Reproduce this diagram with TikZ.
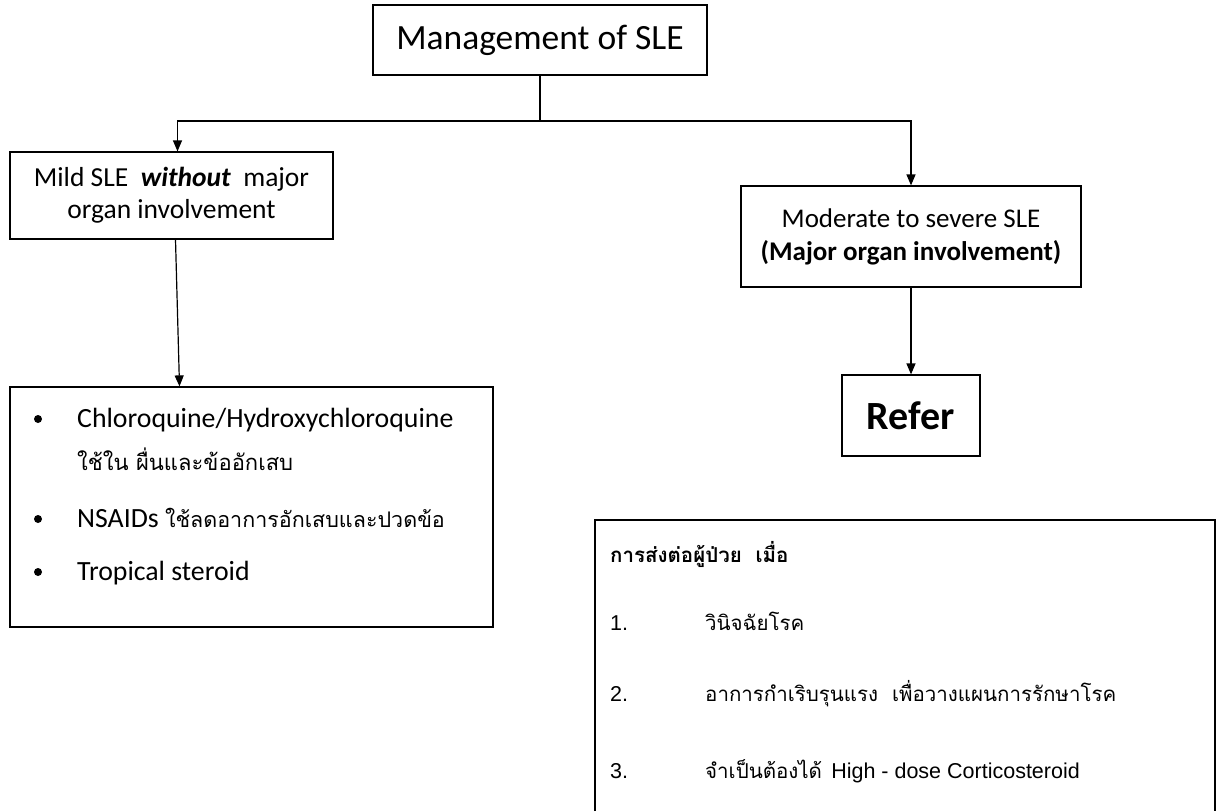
\documentclass[tikz,border=0pt]{standalone}
\usepackage{fontspec}
\setmainfont{Carlito}
\newfontfamily\thai[Script=Thai]{Loma}
\newfontfamily\ars{Liberation Sans}
\usetikzlibrary{arrows.meta,calc}
\begin{document}
\begin{tikzpicture}[x=1pt,y=-1pt,
  box/.style={draw,line width=1.2pt,inner sep=0pt},
  arr/.style={line width=1.2pt,-{Triangle[length=11pt,width=9pt]}},
  ln/.style={line width=1.2pt},
  txt/.style={inner sep=0pt,anchor=base west},
  bul/.style={circle,fill,inner sep=0pt,minimum size=8pt}]
\useasboundingbox (0,0) rectangle (1222,811);
% title
\node[box,minimum width=334pt,minimum height=70pt] (title) at (540,40)
  {\fontsize{35.5}{42}\selectfont Management of SLE};
% level 2
\node[box,minimum width=323pt,minimum height=87pt,align=center,
  font=\fontsize{27.5}{32}\selectfont] (mild) at (171.5,195.5)
  {Mild SLE\ \ \textbf{\textit{without}}\ \ major\\organ involvement};
\node[box,minimum width=340pt,minimum height=101pt,align=center,
  font=\fontsize{27}{33}\selectfont] (mod) at (911,236.5)
  {Moderate to severe SLE\\\textbf{(Major organ involvement)}};
% list box
\node[box,minimum width=483pt,minimum height=240pt] (list) at (251.5,507) {};
\begin{scope}[font=\fontsize{27.8}{32}\selectfont]
\node[bul] (d1) at (38,419) {};
\node[txt] (b1) at (77,427) {Chloroquine/Hydroxychloroquine};
\node[txt] (b1t) at (77,470) {\fontsize{22}{26}\selectfont\thai ใช้ใน ผื่นและข้ออักเสบ};
\node[bul] (d2) at (38,519) {};
\node[txt] (b2) at (77,527) {NSAIDs {\fontsize{21.5}{26}\selectfont\thai ใช้ลดอาการอักเสบและปวดข้อ}};
\node[bul] (d3) at (38,572) {};
\node[txt] (b3) at (77,580) {Tropical steroid};
\end{scope}
% refer
\node[box,minimum width=138pt,minimum height=81pt,
  font=\bfseries\fontsize{40}{46}\selectfont] (refer) at (911,415.5) {Refer};
% referral criteria box (cut off at the bottom)
\coordinate (c1) at (595,811);
\coordinate (c2) at (595,520);
\coordinate (c3) at (1215,520);
\coordinate (c4) at (1215,811);
\draw[ln] (c1) -- (c2) -- (c3) -- (c4);
\begin{scope}[font=\fontsize{20.5}{25}\selectfont]
\node[txt] (h) at (610,562) {\thai\bfseries การส่งต่อผู้ป่วย\ \ เมื่อ};
\node[txt] (n1) at (610,630) {\ars\fontsize{21.5}{25}\selectfont 1.};
\node[txt] (t1) at (705,630) {\thai วินิจฉัยโรค};
\node[txt] (n2) at (610,701) {\ars\fontsize{21.5}{25}\selectfont 2.};
\node[txt] (t2) at (705,701) {\thai อาการกำเริบรุนแรง\ \ เพื่อวางแผนการรักษาโรค};
\node[txt] (n3) at (610,778) {\ars\fontsize{21.5}{25}\selectfont 3.};
\node[txt] (t3) at (705,778) {{\thai จำเป็นต้องได้}\ \ {\ars\fontsize{21.5}{25}\selectfont High - dose Corticosteroid}};
\end{scope}
% connectors
\coordinate (j) at (540,121);
\draw[ln] (title.south) -- (j);
\draw[arr] (j) -| ([xshift=6pt]mild.north);
\draw[arr] (j) -| (mod.north);
\draw[arr] ([xshift=4pt]mild.south) -- ([xshift=-72pt]list.north);
\draw[arr] (mod.south) -- (refer.north);
\end{tikzpicture}
\end{document}
